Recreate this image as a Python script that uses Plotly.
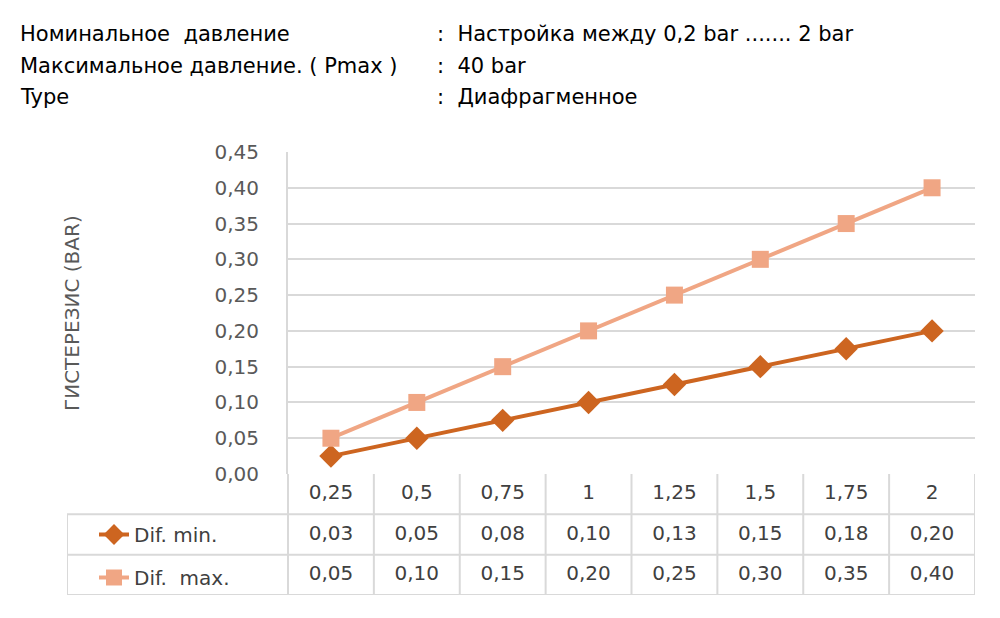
from decimal import Decimal, ROUND_HALF_UP
import plotly.graph_objects as go

# data
pressure = ["0,25", "0,5", "0,75", "1", "1,25", "1,5", "1,75", "2"]
dif_min = [0.025, 0.05, 0.075, 0.10, 0.125, 0.15, 0.175, 0.20]
dif_max = [0.05, 0.10, 0.15, 0.20, 0.25, 0.30, 0.35, 0.40]
series_names = ["Dif. min.", "Dif.  max."]

info_labels = ["Номинальное  давление", "Максимальное давление. ( Pmax )", "Type"]
info_values = [":  Настройка между 0,2 bar ....... 2 bar", ":  40 bar", ":  Диафрагменное"]

DARK = "#CD6520"
LIGHT = "#F0A684"
GRID = "#D9D9D9"
TXT = "#404040"
FONT = "DejaVu Sans"

W, H = 1000, 618
OFF = 8  # page body margin


def px(x):
    return (x - OFF) / W


def py(y):
    return 1 - (y - OFF) / H


def excel_fmt(v):
    # excel-style half-up rounding, comma decimal
    return str(Decimal(str(v)).quantize(Decimal("0.01"), rounding=ROUND_HALF_UP)).replace(".", ",")


n = len(pressure)
left_edge = -0.5 - (288 - 67) / (975 - 288) * n

fig = go.Figure()
fig.add_trace(go.Scatter(x=pressure, y=dif_min, name=series_names[0], mode="lines+markers",
                         line=dict(color=DARK, width=4),
                         marker=dict(symbol="diamond", size=18, color=DARK),
                         legendgroup="a", cliponaxis=False))
fig.add_trace(go.Scatter(x=pressure, y=dif_max, name=series_names[1], mode="lines+markers",
                         line=dict(color=LIGHT, width=4),
                         marker=dict(symbol="square", size=17, color=LIGHT),
                         legendgroup="b", cliponaxis=False))

# data table below the plot
tx, ty, tt = [], [], []
for i in range(n):
    tx += [i, i, i]
    ty += [2.5, 1.5, 0.5]
    tt += [pressure[i], excel_fmt(dif_min[i]), excel_fmt(dif_max[i])]
fig.add_trace(go.Scatter(x=tx, y=ty, text=tt, mode="text", xaxis="x2", yaxis="y2",
                         showlegend=False, hoverinfo="skip",
                         textfont=dict(family=FONT, size=20, color=TXT)))

shapes = []
line = dict(color=GRID, width=2)
for b in range(n + 1):
    shapes.append(dict(type="line", xref="x2", yref="y2", x0=b - 0.5, x1=b - 0.5, y0=0, y1=3, line=line))
shapes.append(dict(type="line", xref="x2", yref="y2", x0=left_edge, x1=left_edge, y0=0, y1=2, line=line))
for r in [0, 1, 2]:
    shapes.append(dict(type="line", xref="x2", yref="y2", x0=left_edge, x1=n - 0.5, y0=r, y1=r, line=line))

annotations = []
for k, (lab, val) in enumerate(zip(info_labels, info_values)):
    yy = py(34 + 31.5 * k)
    annotations.append(dict(text=lab, x=px(18), y=yy, xref="paper", yref="paper", xanchor="left",
                            yanchor="middle", showarrow=False, font=dict(family=FONT, size=21, color="black")))
    annotations.append(dict(text=val, x=px(435), y=yy, xref="paper", yref="paper", xanchor="left",
                            yanchor="middle", showarrow=False, font=dict(family=FONT, size=21, color="black")))
annotations.append(dict(text="ГИСТЕРЕЗИС (BAR)", x=px(72), y=py(313), xref="paper", yref="paper",
                        textangle=-90, showarrow=False, xanchor="center", yanchor="middle",
                        font=dict(family=FONT, size=20, color="#595959")))

fig.update_layout(
    width=W, height=H,
    margin=dict(l=0, r=0, t=0, b=0, autoexpand=False),
    paper_bgcolor="white", plot_bgcolor="white",
    separators=", ",
    font=dict(family=FONT, color=TXT),
    xaxis=dict(type="category", domain=[px(288), px(975)], range=[-0.5, n - 0.5], showgrid=False,
               showticklabels=False, ticks="", zeroline=False, anchor="y", automargin=False),
    yaxis=dict(domain=[py(474), py(152)], range=[0, 0.45], dtick=0.05, tickformat=".2f",
               showgrid=True, gridcolor=GRID, gridwidth=2, zeroline=False, automargin=False,
               showline=True, linecolor=GRID, linewidth=2, ticks="", ticklabelstandoff=23,
               tickfont=dict(family=FONT, size=20, color="#595959"), anchor="x"),
    xaxis2=dict(domain=[px(67), px(975)], range=[left_edge, n - 0.5], visible=False, anchor="y2",
                automargin=False),
    yaxis2=dict(domain=[py(595), py(474)], range=[0, 3], visible=False, anchor="x2",
                automargin=False),
    shapes=shapes,
    annotations=annotations,
    legend=dict(x=px(94), y=py(515), xanchor="left", yanchor="top", tracegroupgap=14,
                font=dict(family=FONT, size=20, color=TXT), bgcolor="rgba(0,0,0,0)"),
    showlegend=True,
)

fig.write_html("out.html")
